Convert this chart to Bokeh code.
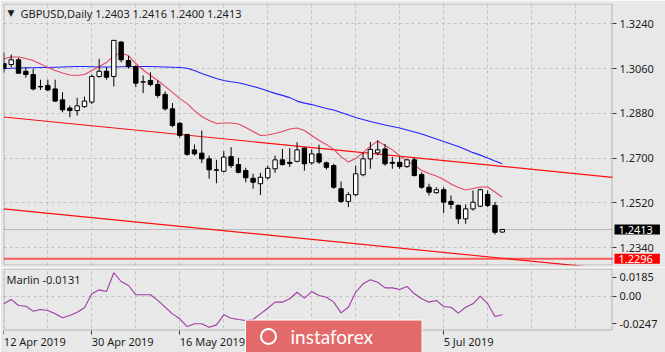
from bokeh.plotting import figure
from bokeh.models import Range1d, FixedTicker, Grid, Label, ColumnDataSource, BoxAnnotation
from bokeh.layouts import column
from bokeh.embed import file_html
from bokeh.resources import INLINE

# ---------------- data ----------------
symbol = "GBPUSD,Daily"
header_quote = ["1.2403", "1.2416", "1.2400", "1.2413"]

opens = [1.3080, 1.3076, 1.3095, 1.3049, 1.3036, 1.2988, 1.2992, 1.2978, 1.2934, 1.2901,
         1.2891, 1.2907, 1.2925, 1.3028, 1.3049, 1.3028, 1.3166, 1.3092, 1.3068, 1.3005,
         1.3012, 1.2996, 1.2956, 1.2898, 1.2840, 1.2795, 1.2733, 1.2720, 1.2697, 1.2653,
         1.2647, 1.2706, 1.2674, 1.2650, 1.2619, 1.2597, 1.2621, 1.2657, 1.2693, 1.2683,
         1.2687, 1.2740, 1.2681, 1.2717, 1.2681, 1.2670, 1.2577, 1.2526, 1.2553, 1.2633,
         1.2697, 1.2721, 1.2737, 1.2683, 1.2683, 1.2666, 1.2693, 1.2634, 1.2583, 1.2561,
         1.2573, 1.2526, 1.2510, 1.2456, 1.2496, 1.2507, 1.2554, 1.2510, 1.2403]
highs = [1.3124, 1.3116, 1.3103, 1.3065, 1.3059, 1.3015, 1.3015, 1.3015, 1.2965, 1.2911,
         1.2942, 1.2947, 1.3036, 1.3099, 1.3065, 1.3175, 1.3170, 1.3110, 1.3072, 1.3032,
         1.3045, 1.3012, 1.2968, 1.2921, 1.2844, 1.2798, 1.2755, 1.2811, 1.2710, 1.2693,
         1.2728, 1.2744, 1.2701, 1.2661, 1.2637, 1.2641, 1.2670, 1.2710, 1.2737, 1.2740,
         1.2764, 1.2744, 1.2735, 1.2754, 1.2686, 1.2677, 1.2606, 1.2563, 1.2670, 1.2724,
         1.2764, 1.2771, 1.2757, 1.2704, 1.2706, 1.2697, 1.2701, 1.2643, 1.2597, 1.2583,
         1.2583, 1.2550, 1.2514, 1.2514, 1.2570, 1.2577, 1.2570, 1.2524, 1.2416]
lows = [1.3044, 1.3065, 1.3039, 1.3023, 1.2972, 1.2974, 1.2969, 1.2925, 1.2884, 1.2864,
        1.2871, 1.2902, 1.2918, 1.3023, 1.3015, 1.2988, 1.3085, 1.3060, 1.2985, 1.2961,
        1.2988, 1.2942, 1.2891, 1.2824, 1.2782, 1.2709, 1.2710, 1.2680, 1.2617, 1.2599,
        1.2643, 1.2661, 1.2639, 1.2603, 1.2577, 1.2552, 1.2614, 1.2641, 1.2670, 1.2664,
        1.2683, 1.2650, 1.2673, 1.2677, 1.2654, 1.2577, 1.2520, 1.2503, 1.2547, 1.2627,
        1.2657, 1.2711, 1.2670, 1.2657, 1.2657, 1.2661, 1.2626, 1.2577, 1.2550, 1.2557,
        1.2479, 1.2496, 1.2436, 1.2436, 1.2489, 1.2503, 1.2503, 1.2393, 1.2400]
closes = [1.3060, 1.3095, 1.3041, 1.3036, 1.2978, 1.2986, 1.2974, 1.2929, 1.2894, 1.2891,
          1.2910, 1.2929, 1.3028, 1.3049, 1.3025, 1.3173, 1.3095, 1.3067, 1.3001, 1.3007,
          1.2996, 1.2952, 1.2898, 1.2831, 1.2791, 1.2715, 1.2717, 1.2697, 1.2653, 1.2651,
          1.2704, 1.2670, 1.2643, 1.2621, 1.2603, 1.2623, 1.2659, 1.2693, 1.2674, 1.2678,
          1.2733, 1.2677, 1.2717, 1.2684, 1.2663, 1.2583, 1.2526, 1.2553, 1.2637, 1.2697,
          1.2735, 1.2733, 1.2677, 1.2679, 1.2666, 1.2693, 1.2630, 1.2583, 1.2563, 1.2573,
          1.2523, 1.2514, 1.2456, 1.2496, 1.2523, 1.2573, 1.2510, 1.2402, 1.2413]

ma_fast = [1.3099, 1.3106, 1.3106, 1.3100, 1.3092, 1.3078, 1.3064, 1.3052, 1.3042, 1.3034,
           1.3032, 1.3036, 1.3052, 1.3068, 1.3084, 1.3112, 1.3121, 1.3112, 1.3080, 1.3054,
           1.3032, 1.3012, 1.2988, 1.2964, 1.2939, 1.2919, 1.2891, 1.2867, 1.2851, 1.2839,
           1.2841, 1.2841, 1.2837, 1.2823, 1.2807, 1.2791, 1.2793, 1.2799, 1.2807, 1.2817,
           1.2821, 1.2811, 1.2791, 1.2771, 1.2755, 1.2735, 1.2706, 1.2684, 1.2698, 1.2722,
           1.2747, 1.2769, 1.2751, 1.2733, 1.2710, 1.2688, 1.2672, 1.2650, 1.2638, 1.2628,
           1.2614, 1.2596, 1.2582, 1.2572, 1.2578, 1.2584, 1.2584, 1.2564, 1.2543]
ma_slow = [1.3059, 1.3061, 1.3062, 1.3063, 1.3063, 1.3064, 1.3064, 1.3065, 1.3066, 1.3067,
           1.3068, 1.3068, 1.3067, 1.3066, 1.3066, 1.3066, 1.3067, 1.3068, 1.3068, 1.3068,
           1.3068, 1.3067, 1.3066, 1.3065, 1.3064, 1.3061, 1.3052, 1.3040, 1.3030, 1.3020,
           1.3012, 1.3007, 1.3003, 1.2996, 1.2988, 1.2980, 1.2970, 1.2960, 1.2952, 1.2943,
           1.2929, 1.2921, 1.2915, 1.2907, 1.2899, 1.2893, 1.2883, 1.2873, 1.2863, 1.2855,
           1.2847, 1.2840, 1.2833, 1.2827, 1.2821, 1.2813, 1.2805, 1.2797, 1.2787, 1.2777,
           1.2767, 1.2757, 1.2747, 1.2735, 1.2722, 1.2712, 1.2700, 1.2688, 1.2677]

marlin = [-0.0054, -0.0023, -0.0066, -0.0071, -0.0106, -0.0094, -0.0101, -0.0125, -0.0153, -0.0137,
          -0.0113, -0.0082, 0.0017, 0.0045, 0.0033, 0.0166, 0.0104, 0.0076, 0.0010, 0.0010,
          0.0010, -0.0030, -0.0078, -0.0125, -0.0160, -0.0215, -0.0195, -0.0195, -0.0220, -0.0203,
          -0.0132, -0.0156, -0.0165, -0.0172, -0.0165, -0.0125, -0.0085, -0.0042, -0.0042, -0.0018,
          0.0028, -0.0014, 0.0033, 0.0005, -0.0007, -0.0042, -0.0118, -0.0078, 0.0028, 0.0088,
          0.0116, 0.0099, 0.0059, 0.0059, 0.0047, 0.0069, 0.0017, -0.0018, -0.0042, -0.0030,
          -0.0073, -0.0078, -0.0120, -0.0078, -0.0054, 0.0000, -0.0054, -0.0144, -0.0131]
marlin_title = "Marlin -0.0131"

price_ticks = [1.2340, 1.2520, 1.2700, 1.2880, 1.3060, 1.3240]
current_price = 1.2413
support_level = 1.2296
channel_upper = [(0, 1.2865), (84, 1.2620)]
channel_lower = [(0, 1.2496), (84, 1.2251)]

date_ticks = [0, 12, 24, 36, 48, 60]
date_labels = ["12 Apr 2019", "30 Apr 2019", "16 May 2019", "3 Jun 2019", "19 Jun 2019", "5 Jul 2019"]
marlin_tick_labels = ["0.0185", "0.00", "-0.0247"]

# ---------------- layout / style ----------------
W = 665
MAIN_H, SUB_H = 267, 85
PAD_L = 3
PANE_R = 612            # right border of the chart panes (px)
BAR_PX = 7.33
X0 = -0.05
X1 = X0 + (W - PAD_L) / BAR_PX
PX_PER_PRICE = 2489.0
MAIN_TOP, MAIN_BOT = 3, 265
MAIN_HI = 1.3240 + (23.2 - MAIN_TOP) / PX_PER_PRICE
MAIN_LO = MAIN_HI - (MAIN_BOT - MAIN_TOP) / PX_PER_PRICE
SUB_TOP, SUB_BOT, SUB_ZERO, PX_PER_SUB = 268, 329.5, 295.7, 1412.0

BG = "#e8e8e8"
GRID = "#c2c2c2"
TXT = "#1e1e1e"
EDGE = "#3a3a3a"
FONT = "Noto Sans"


def bx(px):
    return X0 + (px - PAD_L) / BAR_PX


def py(px):
    return MAIN_HI - (px - MAIN_TOP) / PX_PER_PRICE


def sy(px):
    return (SUB_ZERO - px) / PX_PER_SUB


SUB_HI = sy(SUB_TOP)
SUB_LO = sy(MAIN_H + SUB_H)
XP = bx(PANE_R)


def ray(anchors, xa, xb):
    (x0, y0), (x1, y1) = anchors
    k = (y1 - y0) / (x1 - x0)
    return [xa, xb], [y0 + k * (xa - x0), y0 + k * (xb - x0)]


def style_axis(a):
    a.major_label_text_font = FONT
    a.major_label_text_font_size = "11px"
    a.major_label_text_color = TXT
    a.major_tick_out = 4
    a.major_tick_in = 0
    a.major_tick_line_color = EDGE
    a.minor_tick_line_color = None
    a.axis_line_color = None


idx = list(range(len(opens)))
up = [c >= o for o, c in zip(opens, closes)]
src = ColumnDataSource(dict(
    x=idx, high=highs, low=lows,
    top=[max(o, c) for o, c in zip(opens, closes)],
    bottom=[min(o, c) for o, c in zip(opens, closes)],
    fill=["white" if u else "black" for u in up],
))

grid_bars = list(range(0, 90, 6))

# ---------------- main pane ----------------
main = figure(width=W, height=MAIN_H, x_range=Range1d(X0, X1), y_range=Range1d(MAIN_LO, MAIN_HI),
              output_backend="svg", toolbar_location=None, x_axis_location=None,
              y_axis_location="right", min_border_left=PAD_L, min_border_right=0,
              min_border_top=MAIN_TOP, min_border_bottom=MAIN_H - MAIN_BOT,
              background_fill_color=BG, border_fill_color=BG, outline_line_color=None)

ax = main.yaxis[0]
ax.ticker = FixedTicker(ticks=price_ticks)
ax.major_label_overrides = {t: f"{t:.4f}" for t in price_ticks}
ax.fixed_location = XP
ax.major_label_standoff = 3
style_axis(ax)
main.ygrid.ticker = FixedTicker(ticks=price_ticks)
main.ygrid.grid_line_color = GRID
main.ygrid.grid_line_dash = "3 3"
main.add_layout(Grid(dimension=0, ticker=FixedTicker(ticks=grid_bars),
                     grid_line_color=GRID, grid_line_dash="3 3"))
main.add_layout(BoxAnnotation(left=XP, right=X1 + 5, top=MAIN_HI + 1, bottom=MAIN_LO - 1,
                              fill_color=BG, fill_alpha=1, line_color=None, level="underlay"))

main.segment(x0=[X0], y0=[current_price], x1=[XP], y1=[current_price], line_color="#b8b8b8", line_width=1)
main.segment(x0=[X0], y0=[support_level], x1=[XP], y1=[support_level], line_color="#ff5a5a", line_width=2)

for anchors in (channel_upper, channel_lower):
    xs, ys = ray(anchors, X0, XP)
    main.line(xs, ys, line_color="#ff1010", line_width=1.2)

main.line(idx, ma_slow, line_color="#2323ff", line_width=1.1)
main.line(idx, ma_fast, line_color="#e6455f", line_width=1.1)

main.segment(x0="x", y0="low", x1="x", y1="high", source=src, line_color="black", line_width=1)
main.vbar(x="x", width=0.6, top="top", bottom="bottom", source=src,
          fill_color="fill", line_color="black", line_width=1)

main.add_layout(BoxAnnotation(left=bx(3.5), right=bx(PANE_R - 0.5), top=py(3.5), bottom=py(MAIN_BOT - 0.5),
                              fill_color=None, line_color=EDGE, line_width=1))

main.add_layout(Label(x=bx(7), y=py(12), text="\u25bc", text_font="DejaVu Sans",
                      text_font_size="9px", text_color=TXT, text_baseline="middle", text_align="left"))
main.add_layout(Label(x=bx(20), y=py(13), text=symbol + "  " + " ".join(header_quote),
                      text_font=FONT, text_font_size="11px", text_color=TXT,
                      text_baseline="middle", text_align="left"))

for lvl, bg in ((current_price, "black"), (support_level, "#ff0000")):
    main.add_layout(Label(x=bx(614), y=lvl, text=f"{lvl:.4f}", text_font=FONT, text_font_size="11px",
                          text_color="white", background_fill_color=bg, text_baseline="middle",
                          text_align="left", padding=dict(left=4, right=7, top=1, bottom=1)))

# ---------------- Marlin pane ----------------
sub = figure(width=W, height=SUB_H, x_range=main.x_range, y_range=Range1d(SUB_LO, SUB_HI),
             output_backend="svg", toolbar_location=None, y_axis_location="right",
             min_border_left=PAD_L, min_border_right=0,
             min_border_top=SUB_TOP - MAIN_H, min_border_bottom=0,
             background_fill_color=BG, border_fill_color=BG, outline_line_color=None)

sub_ticks = [round(sy(276.7), 5), 0.0, round(sy(323.3), 5)]
say = sub.yaxis[0]
say.ticker = FixedTicker(ticks=sub_ticks)
say.major_label_overrides = dict(zip(sub_ticks, marlin_tick_labels))
say.fixed_location = XP
say.major_label_standoff = 3
style_axis(say)

sax = sub.xaxis[0]
sax.ticker = FixedTicker(ticks=date_ticks)
sax.major_label_overrides = dict(zip(date_ticks, date_labels))
sax.fixed_location = sy(SUB_BOT + 0.5)
sax.major_label_orientation = -1e-4
sax.major_label_standoff = 7
style_axis(sax)

sub.ygrid.ticker = FixedTicker(ticks=[0.0])
sub.ygrid.grid_line_color = GRID
sub.ygrid.grid_line_dash = "3 3"
sub.xgrid.ticker = FixedTicker(ticks=grid_bars)
sub.xgrid.grid_line_color = GRID
sub.xgrid.grid_line_dash = "3 3"
sub.add_layout(BoxAnnotation(left=XP, right=X1 + 5, top=SUB_HI + 1, bottom=SUB_LO - 1,
                             fill_color=BG, fill_alpha=1, line_color=None, level="underlay"))
sub.add_layout(BoxAnnotation(left=X0 - 5, right=X1 + 5, top=sy(SUB_BOT + 0.5), bottom=SUB_LO - 1,
                             fill_color=BG, fill_alpha=1, line_color=None, level="underlay"))

sub.line(idx, marlin, line_color="#a03aa6", line_width=1.1)

sub.add_layout(BoxAnnotation(left=bx(3.5), right=bx(PANE_R - 0.5), top=sy(SUB_TOP + 0.5), bottom=sy(SUB_BOT),
                             fill_color=None, line_color=EDGE, line_width=1))

sub.add_layout(Label(x=bx(6), y=sy(279), text=marlin_title, text_font=FONT, text_font_size="11px",
                     text_color=TXT, text_baseline="middle", text_align="left"))

sub.add_layout(Label(x=bx(245), y=sy(336), text="instaforex", text_font="Lato", text_font_size="19px",
                     text_color="white", background_fill_color="#e26a6a", border_line_color="white",
                     border_line_width=1, text_baseline="middle", text_align="left",
                     padding=dict(left=45, right=49, top=5, bottom=5)))
icon = sub.scatter(x=[bx(268)], y=[sy(336)], marker="circle", size=15, fill_color=None,
                   line_color="white", line_width=2)
icon.level = "overlay"

layout = column(main, sub, spacing=0)
open("out.html", "w").write(file_html(layout, INLINE))
